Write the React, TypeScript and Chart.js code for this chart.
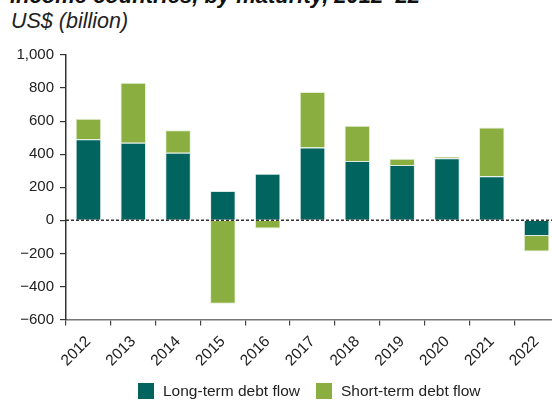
import React, { useEffect, useRef } from 'react';
import { Chart, registerables } from 'chart.js';

Chart.register(...registerables);

const years = ['2012', '2013', '2014', '2015', '2016', '2017', '2018', '2019', '2020', '2021', '2022'];
const longTermFlow = [490, 469, 408, 178, 281, 440, 359, 335, 376, 267, -95];
const shortTermFlow = [125, 363, 137, -505, -50, 336, 213, 37, 8, 295, -93];
const seriesNames = ['Long-term debt flow', 'Short-term debt flow'];
const seriesColors = ['#01645F', '#8AAE40'];
const yMin = -600;
const yMax = 1000;
const yStep = 200;

const FONT = '"Liberation Sans", Arial, Helvetica, sans-serif';

function fmt(v: number): string {
  const s = Math.abs(v).toLocaleString('en-US');
  return v < 0 ? '\u2212' + s : s;
}

export default function App() {
  const ref = useRef<HTMLCanvasElement>(null);

  useEffect(() => {
    if (!ref.current) return;
    const zeroLine = {
      id: 'zeroLine',
      afterDatasetsDraw(chart: any) {
        const y = chart.scales.y.getPixelForValue(0);
        const ctx = chart.ctx;
        ctx.save();
        ctx.beginPath();
        ctx.setLineDash([3, 2]);
        ctx.lineWidth = 1.5;
        ctx.strokeStyle = '#333';
        ctx.moveTo(chart.chartArea.left, y);
        ctx.lineTo(chart.chartArea.right, y);
        ctx.stroke();
        ctx.restore();
      },
    };
    const chart = new Chart(ref.current, {
      type: 'bar',
      data: {
        labels: years,
        datasets: [
          {
            label: seriesNames[0],
            data: longTermFlow,
            backgroundColor: seriesColors[0],
            borderColor: 'rgba(215,232,225,0.9)',
            borderWidth: 1,
            barPercentage: 0.57,
            categoryPercentage: 1,
          },
          {
            label: seriesNames[1],
            data: shortTermFlow,
            backgroundColor: seriesColors[1],
            borderColor: 'rgba(225,238,210,0.9)',
            borderWidth: 1,
            barPercentage: 0.57,
            categoryPercentage: 1,
          },
        ],
      },
      options: {
        responsive: false,
        animation: false,
        devicePixelRatio: 1,
        layout: { padding: { left: 0, right: 41, top: 55, bottom: 0 } },
        plugins: {
          legend: { display: false },
          tooltip: { enabled: false },
          title: { display: false },
        },
        scales: {
          x: {
            stacked: true,
            afterFit(scale: any) {
              scale.height = 80.5;
            },
            grid: {
              display: true,
              offset: true,
              drawOnChartArea: false,
              drawTicks: true,
              tickLength: 6,
              color: '#444',
              lineWidth: 1.2,
            },
            border: { display: true, color: '#777', width: 1.5 },
            ticks: {
              minRotation: 45,
              maxRotation: 45,
              padding: 7,
              color: '#222',
              font: { family: FONT, size: 15.5 },
            },
          },
          y: {
            stacked: true,
            min: yMin,
            max: yMax,
            afterFit(scale: any) {
              scale.width = 66;
            },
            grid: {
              display: true,
              drawOnChartArea: false,
              drawTicks: true,
              tickLength: 6,
              color: '#333',
              lineWidth: 1.2,
            },
            border: { display: true, color: '#333', width: 1.5 },
            ticks: {
              stepSize: yStep,
              padding: 6,
              color: '#222',
              font: { family: FONT, size: 15 },
              callback: (v: any) => fmt(Number(v)),
            },
          },
        },
      },
      plugins: [zeroLine],
    } as any);
    return () => chart.destroy();
  }, []);

  return (
    <div
      style={{
        position: 'fixed',
        left: 0,
        top: 0,
        width: 552,
        height: 400,
        overflow: 'hidden',
        background: '#fff',
        fontFamily: FONT,
      }}
    >
      <div
        style={{
          position: 'absolute',
          left: 10,
          top: -14.6,
          fontSize: 22,
          lineHeight: '22px',
          fontWeight: 'bold',
          fontStyle: 'italic',
          whiteSpace: 'nowrap',
          color: '#111',
        }}
      >
        income countries, by maturity, 2012–22
      </div>
      <div
        style={{
          position: 'absolute',
          left: 11,
          top: 10.5,
          fontSize: 21.5,
          lineHeight: '21.5px',
          fontStyle: 'italic',
          whiteSpace: 'nowrap',
          color: '#222',
        }}
      >
        US$ (billion)
      </div>
      <canvas ref={ref} width={600} height={400} style={{ position: 'absolute', left: 0, top: 0 }} />
      <div
        style={{
          position: 'absolute',
          left: 138,
          top: 383.3,
          display: 'flex',
          alignItems: 'center',
          fontSize: 15.5,
          lineHeight: '16px',
          color: '#222',
          whiteSpace: 'nowrap',
        }}
      >
        {seriesNames.map((name, i) => (
          <div key={name} style={{ display: 'flex', alignItems: 'center', marginRight: i === 0 ? 16 : 0 }}>
            <span style={{ display: 'inline-block', width: 16, height: 16, background: seriesColors[i], marginRight: 9 }} />
            <span>{name}</span>
          </div>
        ))}
      </div>
    </div>
  );
}
